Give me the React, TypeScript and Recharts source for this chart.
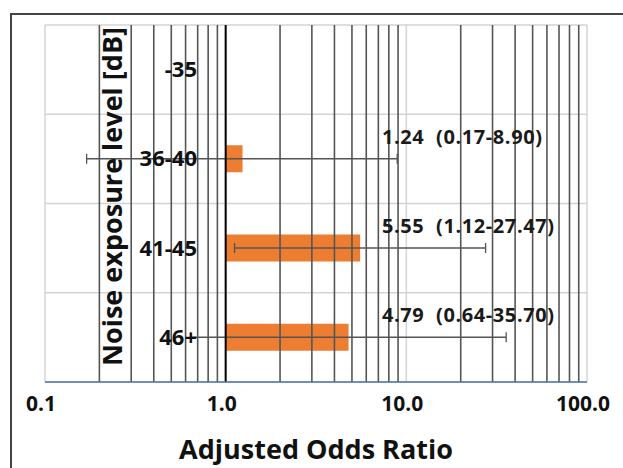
import {
  BarChart,
  Bar,
  XAxis,
  YAxis,
  CartesianGrid,
  ReferenceLine,
  LabelList,
} from "recharts";

const groups = ["-35", "36-40", "41-45", "46+"];
const oddsRatio = [null, 1.24, 5.55, 4.79];
const ciLow = [null, 0.17, 1.12, 0.64];
const ciHigh = [null, 8.9, 27.47, 35.7];
const majorTicks = [0.1, 1, 10, 100];
const minorTicks = [
  0.2, 0.3, 0.4, 0.5, 0.6, 0.7, 0.8, 0.9,
  2, 3, 4, 5, 6, 7, 8, 9,
  20, 30, 40, 50, 60, 70, 80, 90,
];

const data = groups.map((g, i) => ({
  group: g,
  or: oddsRatio[i],
  lo: ciLow[i],
  hi: ciHigh[i],
  label:
    oddsRatio[i] == null
      ? ""
      : `${oddsRatio[i]!.toFixed(2)}  (${ciLow[i]!.toFixed(2)}-${ciHigh[i]!.toFixed(2)})`,
}));

const FONT = "'Open Sans', sans-serif";
const LABEL_X = 382;

const ErrorShape = (props: any) => {
  const { x, y, width, height } = props;
  if (width == null || isNaN(width)) return null;
  const cy = y + height / 2;
  return (
    <g stroke="#555" strokeWidth={1.3}>
      <line x1={x} y1={cy} x2={x + width} y2={cy} />
      <line x1={x} y1={cy - 5} x2={x} y2={cy + 5} />
      <line x1={x + width} y1={cy - 5} x2={x + width} y2={cy + 5} />
    </g>
  );
};

const CiLabel = (props: any) => {
  const { y, height, value } = props;
  if (!value) return null;
  return (
    <text
      x={LABEL_X}
      y={y + height / 2 - 15}
      fontFamily={FONT}
      fontWeight={700}
      fontSize={20}
      letterSpacing={0.6}
      fill="#1a1a1a"
      style={{ whiteSpace: "pre" }}
    >
      {value}
    </text>
  );
};

const GroupTick = (props: any) => {
  const { y, payload } = props;
  return (
    <text
      x={197}
      y={y}
      dy={7.5}
      textAnchor="end"
      fontFamily={FONT}
      fontWeight={700}
      fontSize={22}
      fill="#111"
    >
      {payload.value}
    </text>
  );
};

const YTitle = (props: any) => {
  const { viewBox } = props;
  const cy = (viewBox?.y ?? 25) + (viewBox?.height ?? 357) / 2 - 7;
  return (
    <text
      x={111}
      y={cy}
      transform={`rotate(-90, 111, ${cy})`}
      textAnchor="middle"
      dominantBaseline="central"
      fontFamily={FONT}
      fontWeight={700}
      fontSize={27}
      fill="#111"
    >
      Noise exposure level [dB]
    </text>
  );
};

export default function App() {
  return (
    <div
      style={{
        position: "absolute",
        left: 0,
        top: 0,
        width: 623,
        height: 468,
        background: "#fff",
        overflow: "hidden",
      }}
    >
      <div
        style={{
          position: "absolute",
          left: 10,
          top: 13,
          width: 700,
          height: 500,
          borderLeft: "2px solid #444",
          borderTop: "2px solid #444",
        }}
      />
      <BarChart
        width={623}
        height={468}
        data={data}
        layout="vertical"
        margin={{ top: 25, right: 36, left: 5, bottom: 46 }}
        style={{ position: "absolute", left: 0, top: 0 }}
      >
        <CartesianGrid
          stroke="#d4d4d4"
          strokeWidth={1.5}
          horizontalCoordinatesGenerator={({ offset }: any) =>
            [0, 1, 2, 3, 4].map((i) => offset.top + (i * offset.height) / 4)
          }
        />
        {minorTicks.map((v) => (
          <ReferenceLine key={v} x={v} stroke="#555" strokeWidth={1.6} />
        ))}
        <XAxis
          type="number"
          scale="log"
          domain={[0.1, 100]}
          ticks={majorTicks}
          allowDataOverflow
          height={40}
          axisLine={{ stroke: "#4a74a8", strokeWidth: 1.5 }}
          tickLine={false}
          tickMargin={8}
          tickFormatter={(v: number) => v.toFixed(1)}
          tick={{ fontFamily: FONT, fontWeight: 700, fontSize: 21, fill: "#111", dx: -4 }}
          label={{
            value: "Adjusted Odds Ratio",
            position: "bottom",
            offset: 18,
            fontFamily: FONT,
            fontWeight: 700,
            fontSize: 27,
            fill: "#111",
          }}
        />
        <YAxis
          yAxisId="bars"
          type="category"
          dataKey="group"
          width={40}
          axisLine={false}
          tickLine={false}
          tick={(p: any) => <GroupTick {...p} />}
          label={(p: any) => <YTitle {...p} />}
        />
        <YAxis yAxisId="err" type="category" dataKey="group" hide />
        <ReferenceLine yAxisId="bars" x={1} stroke="#000" strokeWidth={2} />
        <Bar
          yAxisId="bars"
          dataKey={(d: any) => (d.or == null ? null : [1, d.or])}
          fill="#ed7d31"
          barSize={27}
          isAnimationActive={false}
        />
        <Bar
          yAxisId="err"
          dataKey={(d: any) => (d.lo == null ? null : [d.lo, d.hi])}
          fill="none"
          barSize={27}
          shape={<ErrorShape />}
          isAnimationActive={false}
        >
          <LabelList dataKey="label" content={<CiLabel />} />
        </Bar>
      </BarChart>
    </div>
  );
}
